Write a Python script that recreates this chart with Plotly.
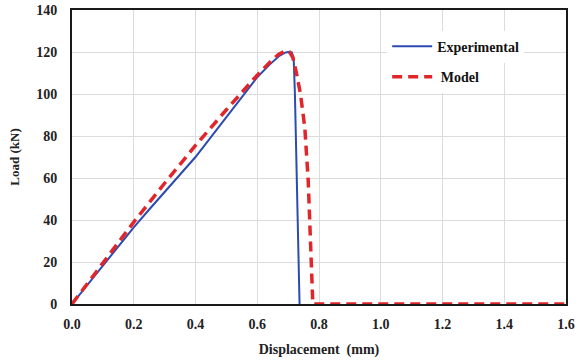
import plotly.graph_objects as go

exp_x = [0.0, 0.1, 0.2, 0.25, 0.3, 0.35, 0.4, 0.45, 0.5, 0.55, 0.6, 0.64, 0.67, 0.69, 0.70, 0.712, 0.718, 0.722, 0.73, 0.737]
exp_y = [0.0, 18.5, 36.5, 45.0, 53.5, 61.5, 70.0, 79.5, 89.0, 99.0, 108.0, 114.0, 118.0, 119.7, 120.0, 119.8, 117.0, 100.0, 50.0, 0.0]

mod_x = [0.0, 0.1, 0.2, 0.3, 0.4, 0.5, 0.55, 0.6, 0.64, 0.67, 0.69, 0.705, 0.715, 0.727, 0.74, 0.754, 0.765, 0.772, 0.776, 0.78, 1.0, 1.2, 1.4, 1.6]
mod_y = [0.0, 19.5, 39.0, 57.5, 75.5, 92.5, 101.0, 109.0, 115.0, 119.0, 120.5, 120.0, 117.5, 110.0, 100.0, 84.0, 59.0, 30.0, 5.0, 0.0, 0.0, 0.0, 0.0, 0.0]

x_ticks = [0.0, 0.2, 0.4, 0.6, 0.8, 1.0, 1.2, 1.4, 1.6]
y_ticks = [0, 20, 40, 60, 80, 100, 120, 140]

font_fam = "Liberation Serif, Times New Roman, serif"
tick_font = dict(family=font_fam, size=14, color="#222222", weight="bold")

fig = go.Figure()
fig.add_trace(go.Scatter(x=exp_x, y=exp_y, mode="lines", name="Experimental",
                         line=dict(color="#2b4bb0", width=2), legend="legend"))
fig.add_trace(go.Scatter(x=mod_x, y=mod_y, mode="lines", name=" Model",
                         line=dict(color="#e0262a", width=3.5, dash="10px,6px"), legend="legend2"))

leg_common = dict(xanchor="left", yanchor="middle", bgcolor="white",
                  font=dict(family=font_fam, size=14, color="#111111", weight="bold"),
                  itemwidth=40)
fig.update_layout(
    width=584, height=360,
    margin=dict(l=72, r=18, t=10, b=56),
    paper_bgcolor="white", plot_bgcolor="white",
    font=dict(family=font_fam, color="#222222"),
    legend=dict(x=0.638, y=0.875, **leg_common),
    legend2=dict(x=0.638, y=0.772, **leg_common),
    showlegend=True,
)
fig.update_xaxes(range=[0, 1.6], tickvals=x_ticks, ticktext=[f"{v:.1f}" for v in x_ticks],
                 tickfont=tick_font, automargin=False,
                 showgrid=True, gridcolor="#dcdcdc", gridwidth=1,
                 showline=True, linecolor="#1a1a1a", linewidth=2, mirror=True,
                 zeroline=False, ticks="", ticklabelstandoff=6,
                 title=dict(text="Displacement  (mm)", font=dict(family=font_fam, size=14, color="#222222", weight="bold"), standoff=13))
fig.update_yaxes(range=[0, 140], tickvals=y_ticks,
                 tickfont=tick_font, automargin=False,
                 showgrid=True, gridcolor="#dcdcdc", gridwidth=1,
                 showline=True, linecolor="#1a1a1a", linewidth=2, mirror=True,
                 zeroline=False, ticks="", ticklabelstandoff=10,
                 title=dict(text="Load (kN)", font=dict(family=font_fam, size=13, color="#222222", weight="bold"), standoff=14))
fig.write_html("out.html", config={"displayModeBar": False},
               post_script="document.body.style.margin='0';")
